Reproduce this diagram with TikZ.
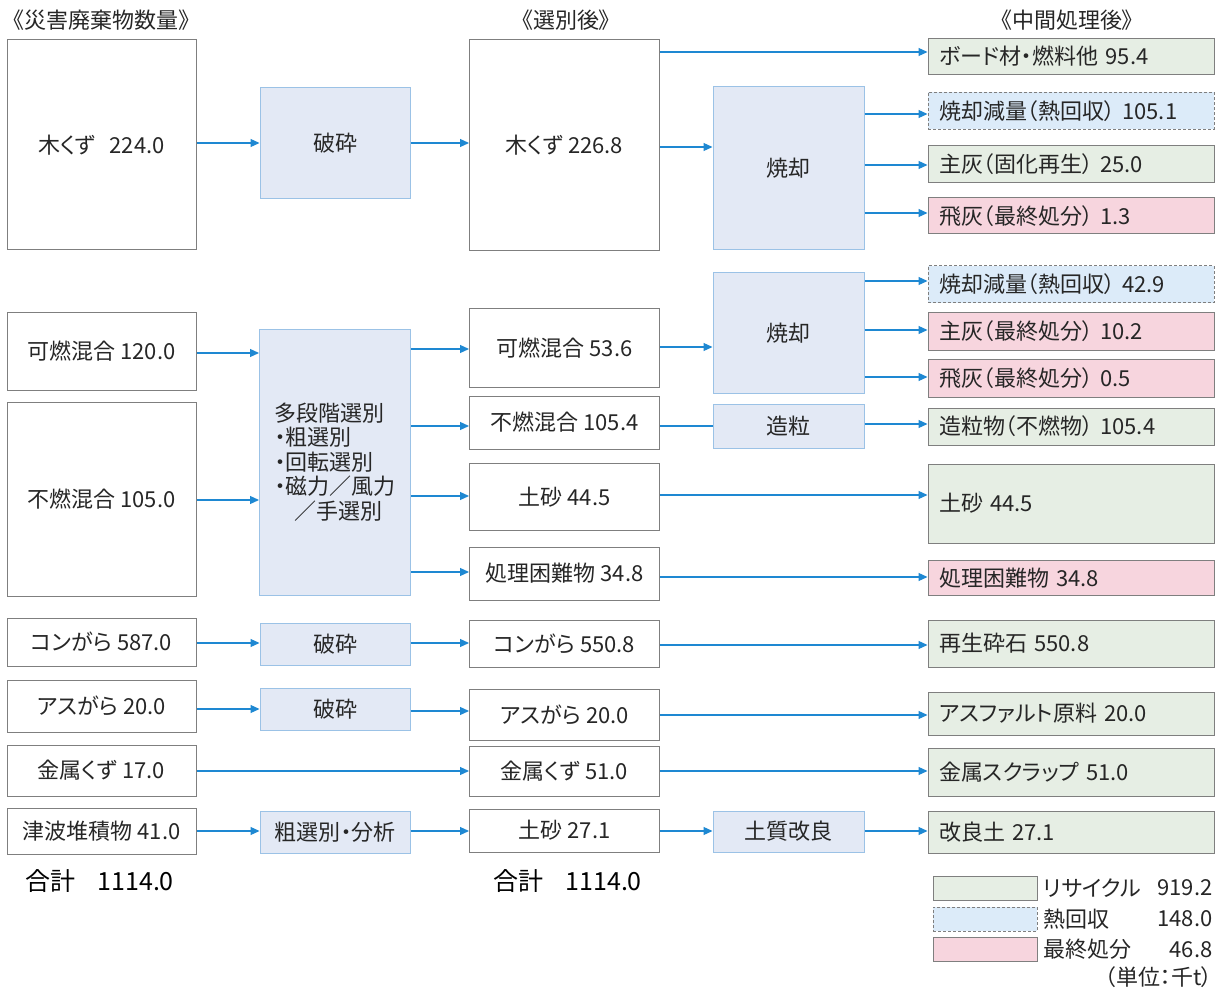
\documentclass[tikz,border=0pt]{standalone}
\usepackage{fontspec}
\setmainfont{Noto Sans CJK JP}[RawFeature={+palt}]
\usetikzlibrary{arrows.meta}
\definecolor{bordergray}{HTML}{7F7F7F}
\definecolor{procfill}{HTML}{E3E9F5}
\definecolor{procborder}{HTML}{9BC2E6}
\definecolor{greenfill}{HTML}{E6EEE4}
\definecolor{heatfill}{HTML}{DCEBF9}
\definecolor{pinkfill}{HTML}{F7D5DE}
\definecolor{arrowblue}{HTML}{1E88D2}
\newcommand\fs{\fontsize{22}{26}\selectfont}
\begin{document}
\begin{tikzpicture}[x=1pt,y=-1pt,
  every node/.style={font=\fs, text=black!85},
  wb/.style={draw=bordergray, fill=white, line width=1pt, inner sep=0pt},
  pb/.style={draw=procborder, fill=procfill, line width=1pt, inner sep=0pt},
  rb/.style={draw=bordergray, line width=1pt, inner xsep=11pt, inner ysep=0pt, align=left, text width=264pt},
  gr/.style={rb, fill=greenfill},
  he/.style={rb, fill=heatfill, dash pattern=on 3pt off 2pt},
  pk/.style={rb, fill=pinkfill},
  lgd/.style={draw=bordergray, line width=1pt, minimum width=104pt, minimum height=24pt, inner sep=0pt},
  arr/.style={draw=arrowblue, line width=1.2pt, -{Triangle[length=9pt,width=8pt]}},
  ln/.style={draw=arrowblue, line width=1.2pt},
  hd/.style={font=\fontsize{22}{26}\selectfont},
  tot/.style={font=\fontsize{25}{28}\selectfont, text=black, anchor=west}
]
\useasboundingbox[fill=white] (0,0) rectangle (1226,992);

% headers
\node[hd] (H1) at (101.5,20) {《災害廃棄物数量》};
\node[hd] (H2) at (566,20) {《選別後》};
\node[hd] (H3) at (1067,20) {《中間処理後》};

% left column
\node[wb,minimum width=189pt,minimum height=210pt] (L1) at (101.5,145) {木くず\hspace{14pt}224.0};
\node[wb,minimum width=189pt,minimum height=77pt] (L2) at (101.5,351.5) {可燃混合 120.0};
\node[wb,minimum width=189pt,minimum height=194pt] (L3) at (101.5,499) {不燃混合 105.0};
\node[wb,minimum width=189pt,minimum height=48pt] (L4) at (101.5,642) {コンがら 587.0};
\node[wb,minimum width=189pt,minimum height=52pt] (L5) at (101.5,706) {アスがら 20.0};
\node[wb,minimum width=189pt,minimum height=51pt] (L6) at (101.5,770.5) {金属くず 17.0};
\node[wb,minimum width=189pt,minimum height=46pt] (L7) at (101.5,831) {津波堆積物 41.0};

% process column
\node[pb,minimum width=150pt,minimum height=111pt] (P1) at (335,143.5) {破砕};
\node[pb,minimum width=151pt,minimum height=266pt,align=left,font=\fontsize{22}{24.5}\selectfont] (P2) at (335,462)
  {多段階選別\\・粗選別\\・回転選別\\・磁力／風力\\\hspace*{20pt}／手選別};
\node[pb,minimum width=150pt,minimum height=42pt] (P3) at (335,644) {破砕};
\node[pb,minimum width=150pt,minimum height=42pt] (P4) at (335,709) {破砕};
\node[pb,minimum width=150pt,minimum height=42pt] (P5) at (335,832) {粗選別・分析};

% sorted column
\node[wb,minimum width=190pt,minimum height=211pt] (M1) at (564.5,145.5) {木くず 226.8};
\node[wb,minimum width=190pt,minimum height=79pt] (M2) at (564.5,348) {可燃混合 53.6};
\node[wb,minimum width=190pt,minimum height=53pt] (M3) at (564.5,422.5) {不燃混合 105.4};
\node[wb,minimum width=190pt,minimum height=67pt] (M4) at (564.5,497) {土砂 44.5};
\node[wb,minimum width=190pt,minimum height=53pt] (M5) at (564.5,573.5) {処理困難物 34.8};
\node[wb,minimum width=190pt,minimum height=47pt] (M6) at (564.5,643.5) {コンがら 550.8};
\node[wb,minimum width=190pt,minimum height=51pt] (M7) at (564.5,714.5) {アスがら 20.0};
\node[wb,minimum width=190pt,minimum height=50pt] (M8) at (564.5,771) {金属くず 51.0};
\node[wb,minimum width=190pt,minimum height=43pt] (M9) at (564.5,830.5) {土砂 27.1};

% intermediate process column
\node[pb,minimum width=151pt,minimum height=163pt] (Q1) at (788.5,168.5) {焼却};
\node[pb,minimum width=151pt,minimum height=120pt] (Q2) at (788.5,333) {焼却};
\node[pb,minimum width=151pt,minimum height=44pt] (Q3) at (788.5,426) {造粒};
\node[pb,minimum width=151pt,minimum height=41pt] (Q4) at (788.5,831.5) {土質改良};

% result column
\node[gr,minimum height=36pt] (R1) at (1071,56.5) {ボード材・燃料他 95.4};
\node[he,minimum height=37pt] (R2) at (1071,111) {焼却減量（熱回収） 105.1};
\node[gr,minimum height=37pt] (R3) at (1071,164.5) {主灰（固化再生） 25.0};
\node[pk,minimum height=36pt] (R4) at (1071,216) {飛灰（最終処分） 1.3};
\node[he,minimum height=37pt] (R5) at (1071,284.5) {焼却減量（熱回収） 42.9};
\node[pk,minimum height=37pt] (R6) at (1071,331.5) {主灰（最終処分） 10.2};
\node[pk,minimum height=38pt] (R7) at (1071,378) {飛灰（最終処分） 0.5};
\node[gr,minimum height=37pt] (R8) at (1071,426.5) {造粒物（不燃物） 105.4};
\node[gr,minimum height=79pt] (R9) at (1071,503.5) {土砂 44.5};
\node[pk,minimum height=35pt] (R10) at (1071,578) {処理困難物 34.8};
\node[gr,minimum height=47pt] (R11) at (1071,643.5) {再生砕石 550.8};
\node[gr,minimum height=43pt] (R12) at (1071,713.5) {アスファルト原料 20.0};
\node[gr,minimum height=48pt] (R13) at (1071,772) {金属スクラップ 51.0};
\node[gr,minimum height=42pt] (R14) at (1071,832) {改良土 27.1};

% totals
\node[tot] (T1) at (22,881) {合計\hspace{22pt}1114.0};
\node[tot] (T2) at (490,881) {合計\hspace{22pt}1114.0};

% legend
\node[lgd,fill=greenfill] (G1) at (985,888) {};
\node[lgd,fill=heatfill,dash pattern=on 3pt off 2pt] (G2) at (985,919) {};
\node[lgd,fill=pinkfill] (G3) at (985,949.5) {};
\node[anchor=west] (G1t) at (1040,888) {リサイクル};
\node[anchor=west] (G2t) at (1040,919) {熱回収};
\node[anchor=west] (G3t) at (1040,949.5) {最終処分};
\node[anchor=east] (G1v) at (1216,888) {919.2};
\node[anchor=east] (G2v) at (1216,919) {148.0};
\node[anchor=east] (G3v) at (1216,949.5) {46.8};
\node[anchor=east] (U) at (1216,977) {（単位：千t）};

% connectors
\draw[arr] (L1.east |- 0,143) -- (P1.west |- 0,143);
\draw[arr] (P1.east |- 0,143) -- (M1.west |- 0,143);
\draw[arr] (M1.east |- 0,52) -- (R1.west |- 0,52);
\draw[arr] (M1.east |- 0,147) -- (Q1.west |- 0,147);
\draw[arr] (Q1.east |- 0,114) -- (R2.west |- 0,114);
\draw[arr] (Q1.east |- 0,165) -- (R3.west |- 0,165);
\draw[arr] (Q1.east |- 0,213) -- (R4.west |- 0,213);

\draw[arr] (L2.east |- 0,353) -- (P2.west |- 0,353);
\draw[arr] (L3.east |- 0,500) -- (P2.west |- 0,500);
\draw[arr] (P2.east |- 0,349) -- (M2.west |- 0,349);
\draw[arr] (P2.east |- 0,426) -- (M3.west |- 0,426);
\draw[arr] (P2.east |- 0,496) -- (M4.west |- 0,496);
\draw[arr] (P2.east |- 0,572) -- (M5.west |- 0,572);
\draw[arr] (M2.east |- 0,347) -- (Q2.west |- 0,347);
\draw[arr] (Q2.east |- 0,281) -- (R5.west |- 0,281);
\draw[arr] (Q2.east |- 0,330) -- (R6.west |- 0,330);
\draw[arr] (Q2.east |- 0,377) -- (R7.west |- 0,377);
\draw[ln]  (M3.east |- 0,426) -- (Q3.west |- 0,426);
\draw[arr] (Q3.east |- 0,424) -- (R8.west |- 0,424);
\draw[arr] (M4.east |- 0,495) -- (R9.west |- 0,495);
\draw[arr] (M5.east |- 0,577) -- (R10.west |- 0,577);

\draw[arr] (L4.east |- 0,643) -- (P3.west |- 0,643);
\draw[arr] (P3.east |- 0,643) -- (M6.west |- 0,643);
\draw[arr] (M6.east |- 0,645) -- (R11.west |- 0,645);
\draw[arr] (L5.east |- 0,709) -- (P4.west |- 0,709);
\draw[arr] (P4.east |- 0,711) -- (M7.west |- 0,711);
\draw[arr] (M7.east |- 0,715) -- (R12.west |- 0,715);
\draw[arr] (L6.east |- 0,771) -- (M8.west |- 0,771);
\draw[arr] (M8.east |- 0,771) -- (R13.west |- 0,771);
\draw[arr] (L7.east |- 0,831) -- (P5.west |- 0,831);
\draw[arr] (P5.east |- 0,831) -- (M9.west |- 0,831);
\draw[arr] (M9.east |- 0,831) -- (Q4.west |- 0,831);
\draw[arr] (Q4.east |- 0,831) -- (R14.west |- 0,831);
\end{tikzpicture}
\end{document}
